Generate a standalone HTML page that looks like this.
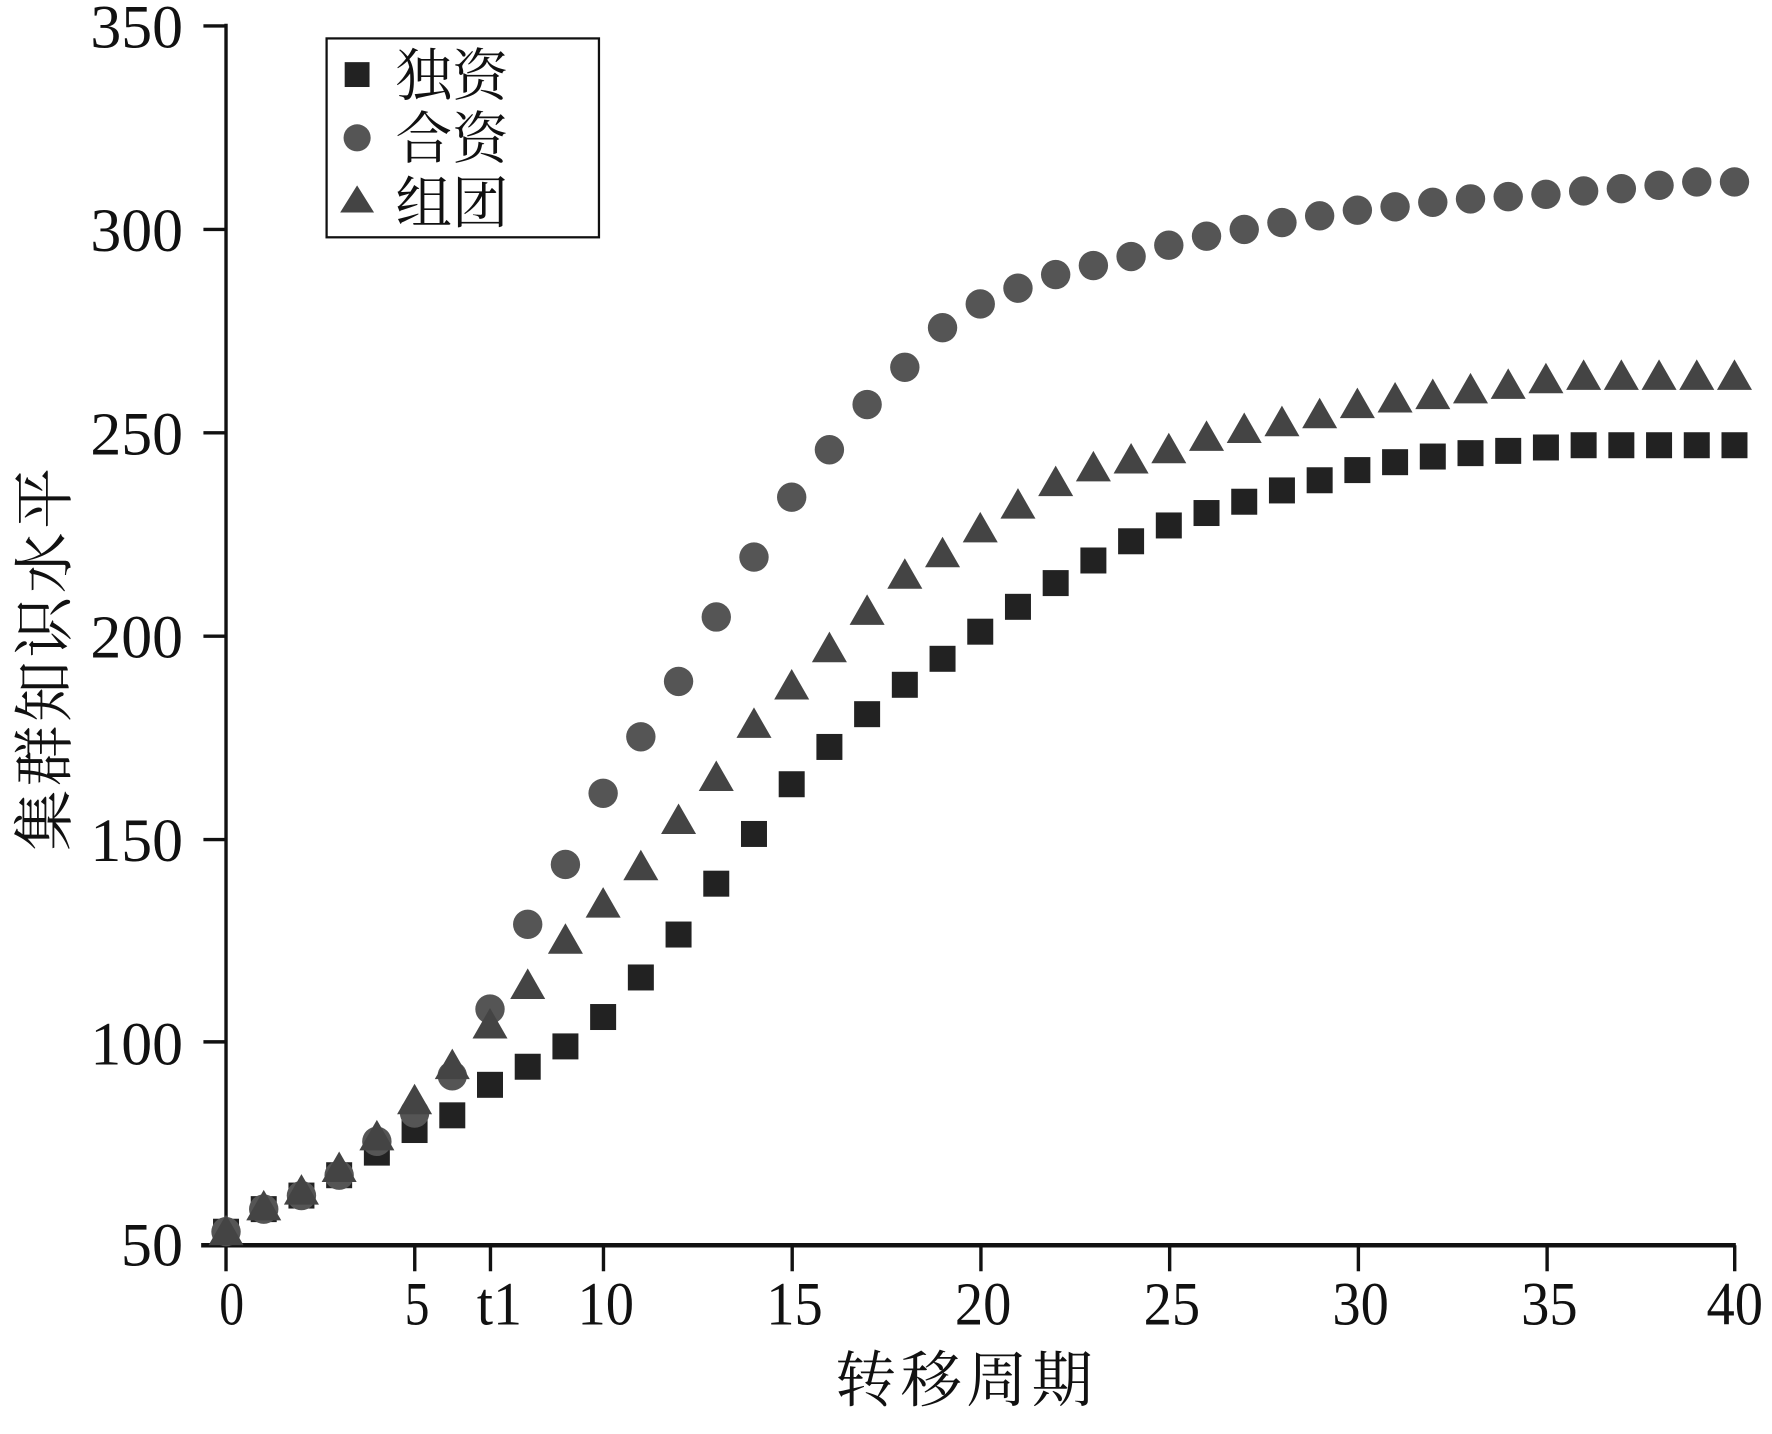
<!DOCTYPE html>
<html><head><meta charset="utf-8"><style>
html,body{margin:0;padding:0;background:#fff;}
svg{display:block;}
text{font-family:"Liberation Serif","Noto Serif CJK SC",serif;fill:#111;}
</style></head><body>
<svg id="s" width="1772" height="1434" viewBox="0 0 1568 1269" preserveAspectRatio="none" xmlns="http://www.w3.org/2000/svg">
<g stroke="#111" stroke-width="3" fill="none">
<line x1="200" y1="21" x2="200" y2="1103"/>
<line x1="178" y1="1102" x2="1536" y2="1102" stroke-width="4"/>
<line x1="180" y1="23" x2="200" y2="23"/>
<line x1="180" y1="203" x2="200" y2="203"/>
<line x1="180" y1="383" x2="200" y2="383"/>
<line x1="180" y1="563" x2="200" y2="563"/>
<line x1="180" y1="743" x2="200" y2="743"/>
<line x1="180" y1="922" x2="200" y2="922"/>
<line x1="200" y1="1102" x2="200" y2="1125"/>
<line x1="367" y1="1102" x2="367" y2="1125"/>
<line x1="434" y1="1102" x2="434" y2="1125"/>
<line x1="534" y1="1102" x2="534" y2="1125"/>
<line x1="701" y1="1102" x2="701" y2="1125"/>
<line x1="868" y1="1102" x2="868" y2="1125"/>
<line x1="1035" y1="1102" x2="1035" y2="1125"/>
<line x1="1202" y1="1102" x2="1202" y2="1125"/>
<line x1="1369" y1="1102" x2="1369" y2="1125"/>
<line x1="1535" y1="1102" x2="1535" y2="1125"/>
</g>
<g font-size="54" text-anchor="end">
<text x="162" y="42" textLength="82" lengthAdjust="spacingAndGlyphs">350</text>
<text x="162" y="222" textLength="82" lengthAdjust="spacingAndGlyphs">300</text>
<text x="162" y="402" textLength="82" lengthAdjust="spacingAndGlyphs">250</text>
<text x="162" y="582" textLength="82" lengthAdjust="spacingAndGlyphs">200</text>
<text x="162" y="762" textLength="82" lengthAdjust="spacingAndGlyphs">150</text>
<text x="162" y="942" textLength="82" lengthAdjust="spacingAndGlyphs">100</text>
<text x="162" y="1120" textLength="55" lengthAdjust="spacingAndGlyphs">50</text>
</g>
<g font-size="54" text-anchor="middle">
<text x="205" y="1172" textLength="22" lengthAdjust="spacingAndGlyphs">0</text>
<text x="369" y="1172" textLength="22" lengthAdjust="spacingAndGlyphs">5</text>
<text x="442" y="1172" textLength="40" lengthAdjust="spacingAndGlyphs">t1</text>
<text x="536" y="1172" textLength="50" lengthAdjust="spacingAndGlyphs">10</text>
<text x="703" y="1172" textLength="50" lengthAdjust="spacingAndGlyphs">15</text>
<text x="870" y="1172" textLength="50" lengthAdjust="spacingAndGlyphs">20</text>
<text x="1037" y="1172" textLength="50" lengthAdjust="spacingAndGlyphs">25</text>
<text x="1204" y="1172" textLength="50" lengthAdjust="spacingAndGlyphs">30</text>
<text x="1371" y="1172" textLength="50" lengthAdjust="spacingAndGlyphs">35</text>
<text x="1535" y="1172" textLength="50" lengthAdjust="spacingAndGlyphs">40</text>
</g>
<text x="855" y="1240" font-size="54" text-anchor="middle" letter-spacing="4">转移周期</text>
<text transform="translate(58,582) rotate(-90)" font-size="54" text-anchor="middle" letter-spacing="3">集群知识水平</text>
<rect x="289" y="34" width="241" height="176" fill="#fff" stroke="#111" stroke-width="2"/>
<rect x="305" y="55" width="22" height="22" fill="#222"/>
<circle cx="316" cy="122" r="12" fill="#555"/>
<polygon points="316,164 331,188 301,188" fill="#444"/>
<g font-size="50"><text x="350" y="84">独资</text><text x="350" y="140">合资</text><text x="350" y="197">组团</text></g>
<g id="pts"></g>
</svg>
<script>
var sq=[1090,1070,1058,1040,1020,1000,987,960,944,926,900,865,827,782,738,694,661,632,606,583,559,537,516,496,479,465,454,444,434,425,416,409,404,401,399,396,394,394,394,394,394];
var ci=[1090,1070,1058,1040,1010,985,952,893,818,765,702,652,603,546,493,440,398,358,325,290,269,255,243,235,227,217,209,203,197,191,186,183,179,176,174,172,169,167,164,161,161];
var tr=[1090,1068,1054,1034,1006,974,943,907,872,832,800,767,726,688,641,607,574,541,509,490,468,447,427,414,407,398,387,380,374,367,358,353,350,345,341,336,333,333,333,333,333];
var h='';
for(var i=0;i<=40;i++){var x=200+33.37*i;h+='<rect x="'+(x-11.5)+'" y="'+(sq[i]-11.5)+'" width="23" height="23" fill="#222"/>';}
for(var i=0;i<=40;i++){var x=200+33.37*i;h+='<circle cx="'+x+'" cy="'+ci[i]+'" r="13" fill="#555"/>';}
for(var i=0;i<=40;i++){var x=200+33.37*i,y=tr[i];h+='<polygon points="'+x+','+(y-15)+' '+(x+15.5)+','+(y+12)+' '+(x-15.5)+','+(y+12)+'" fill="#444"/>';}
document.getElementById('pts').innerHTML=h;
</script>
</body></html>
